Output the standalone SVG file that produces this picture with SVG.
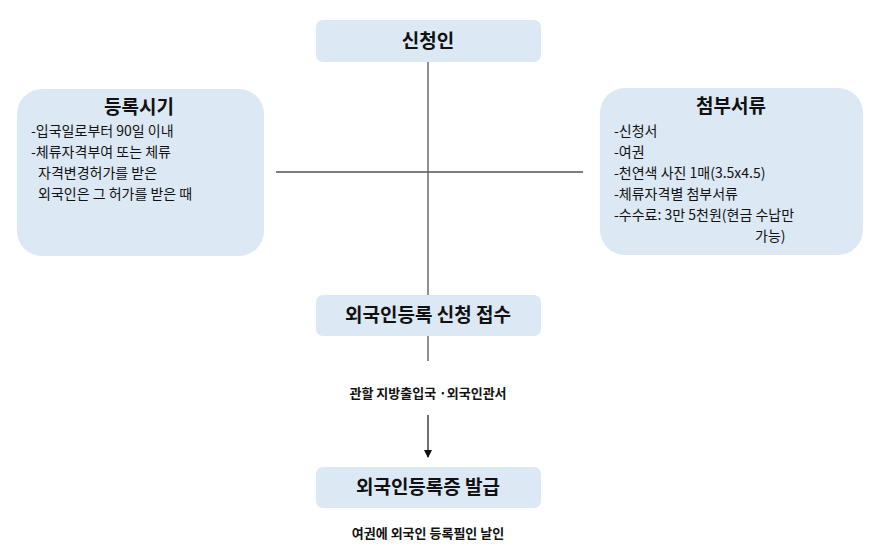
<svg xmlns="http://www.w3.org/2000/svg" width="879" height="550" viewBox="0 0 879 550">
<style>
.box{fill:#dde8f5}
.t{font-family:"Noto Sans CJK KR","Noto Sans",sans-serif;fill:#111}
.h{font-size:19px;font-weight:bold;text-anchor:middle}
.b{font-size:14px}
.s{font-size:13px;font-weight:bold;text-anchor:middle}
.ln{stroke:#555;stroke-width:1.3;fill:none}
</style>
<defs><marker id="ar" markerWidth="8" markerHeight="8" refX="7" refY="4" orient="auto" markerUnits="userSpaceOnUse"><path d="M0,0 L8,4 L0,8 z" fill="#111"/></marker></defs>
<g id="connectors">
<line class="ln" x1="428" y1="62" x2="428" y2="296"/>
<line class="ln" x1="276" y1="172" x2="583" y2="172"/>
<line class="ln" x1="428" y1="336" x2="428" y2="361"/>
<line x1="428" y1="415" x2="428" y2="457" stroke="#111" stroke-width="1.2" marker-end="url(#ar)"/>
</g>
<g id="applicant"><rect class="box" x="316" y="20" width="225" height="42" rx="7"/><text class="t h" x="428" y="48" font-size="22">신청인</text></g>
<g id="timing"><rect class="box" x="17" y="89" width="247" height="167" rx="25"/>
<text class="t h" x="139" y="114">등록시기</text>
<text class="t b" x="31" y="136">-입국일로부터 90일 이내</text>
<text class="t b" x="31" y="157">-체류자격부여 또는 체류</text>
<text class="t b" x="38" y="178">자격변경허가를 받은</text>
<text class="t b" x="38" y="199">외국인은 그 허가를 받은 때</text></g>
<g id="docs"><rect class="box" x="600" y="88" width="263" height="167" rx="25"/>
<text class="t h" x="731" y="113">첨부서류</text>
<text class="t b" x="614" y="136">-신청서</text>
<text class="t b" x="614" y="157">-여권</text>
<text class="t b" x="614" y="178">-천연색 사진 1매(3.5x4.5)</text>
<text class="t b" x="614" y="199">-체류자격별 첨부서류</text>
<text class="t b" x="614" y="220">-수수료: 3만 5천원(현금 수납만</text>
<text class="t b" x="755" y="241">가능)</text></g>
<g id="receive"><rect class="box" x="316" y="295" width="225" height="41" rx="7"/><text class="t h" x="428" y="322">외국인등록 신청 접수</text></g>
<text class="t s" x="428" y="398">관할 지방출입국 ·외국인관서</text>
<g id="issue"><rect class="box" x="316" y="467" width="225" height="41" rx="7"/><text class="t h" x="428" y="494">외국인등록증 발급</text></g>
<text class="t s" x="428" y="538">여권에 외국인 등록필인 날인</text>
</svg>
